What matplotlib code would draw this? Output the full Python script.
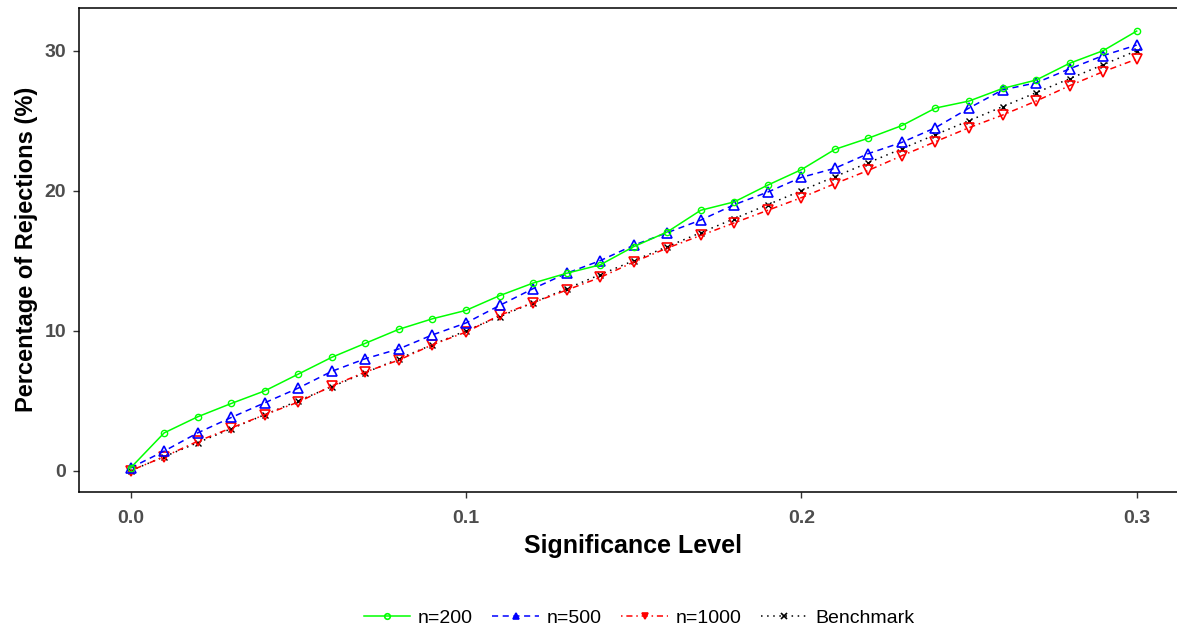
import matplotlib
matplotlib.use("Agg")
import matplotlib.pyplot as plt
from matplotlib.lines import Line2D

alpha = [0.00, 0.01, 0.02, 0.03, 0.04, 0.05, 0.06, 0.07, 0.08, 0.09, 0.10,
         0.11, 0.12, 0.13, 0.14, 0.15, 0.16, 0.17, 0.18, 0.19, 0.20,
         0.21, 0.22, 0.23, 0.24, 0.25, 0.26, 0.27, 0.28, 0.29, 0.30]
n200 = [0.2, 2.7, 3.85, 4.8, 5.7, 6.9, 8.1, 9.1, 10.1, 10.85, 11.45,
        12.5, 13.4, 14.1, 14.7, 16.0, 17.05, 18.6, 19.2, 20.4, 21.5,
        22.95, 23.75, 24.65, 25.9, 26.4, 27.3, 27.9, 29.1, 30.0, 31.4]
n500 = [0.2, 1.4, 2.7, 3.8, 4.85, 5.9, 7.1, 8.0, 8.7, 9.7, 10.55,
        11.8, 13.0, 14.1, 15.0, 16.1, 17.0, 17.9, 19.0, 19.9, 20.95,
        21.6, 22.65, 23.45, 24.5, 25.9, 27.2, 27.7, 28.7, 29.65, 30.4]
n1000 = [0.0, 1.0, 2.1, 3.05, 4.0, 4.9, 6.05, 7.05, 7.9, 9.0, 9.9,
         11.1, 12.0, 12.9, 13.8, 14.9, 15.9, 16.8, 17.7, 18.6, 19.5,
         20.5, 21.45, 22.5, 23.5, 24.5, 25.4, 26.4, 27.5, 28.5, 29.4]
benchmark = [0, 1, 2, 3, 4, 5, 6, 7, 8, 9, 10,
             11, 12, 13, 14, 15, 16, 17, 18, 19, 20,
             21, 22, 23, 24, 25, 26, 27, 28, 29, 30]
labels = ["n=200", "n=500", "n=1000", "Benchmark"]
xticks = [0.0, 0.1, 0.2, 0.3]
yticks = [0, 10, 20, 30]

plt.rcParams['font.family'] = ['Liberation Sans', 'DejaVu Sans']

fig = plt.figure(figsize=(11.77, 6.32), dpi=100)
ax = fig.add_axes([0.0668, 0.222, 0.9417, 0.7654])

styles = [
    dict(color="#00FF00", ls="-", marker="o", ms=4.5, mfc="none", mew=1.0),
    dict(color="#0000FF", ls=(0, (4, 3)), marker="^", ms=7.5, mfc="none", mew=1.2),
    dict(color="#FF0000", ls=(0, (1, 2.5, 4, 2.5)), marker="v", ms=7.5, mfc="none", mew=1.2),
    dict(color="black", ls=(0, (1, 3)), marker="x", ms=4, mfc="none", mew=1.0),
]
series = [n200, n500, n1000, benchmark]
order = [3, 2, 1, 0]
for i in order:
    st = styles[i]
    ax.plot(alpha, series[i], color=st["color"], linestyle=st["ls"], lw=1.1,
            marker=st["marker"], markersize=st["ms"], markerfacecolor=st["mfc"],
            markeredgewidth=st["mew"], markeredgecolor=st["color"], zorder=3 + (3 - i))

ax.set_xlim(-0.0155, 0.315)
ax.set_ylim(-1.5, 33.05)
ax.set_xticks(xticks)
ax.set_xticklabels(["0.0", "0.1", "0.2", "0.3"])
ax.set_yticks(yticks)
ax.tick_params(axis="both", direction="out", length=4, width=1, color="#333333",
               labelsize=14, labelcolor="#4D4D4D")
ax.tick_params(axis="x", pad=9)
ax.tick_params(axis="y", pad=5)
for lab in ax.get_xticklabels() + ax.get_yticklabels():
    lab.set_fontweight("bold")
for sp in ax.spines.values():
    sp.set_color("black")
    sp.set_linewidth(1.1)

ax.set_xlabel("Significance Level", fontsize=18, fontweight="bold", labelpad=5)
ax.set_ylabel("Percentage of Rejections (%)", fontsize=17, fontweight="bold", labelpad=5)

handles = []
leg_markers = ["o", "^", "v", "x"]
for i in range(4):
    st = styles[i]
    handles.append(Line2D([0], [0], color=st["color"], linestyle=st["ls"], lw=1.1,
                          marker=leg_markers[i], markersize=5 if i else 4,
                          markerfacecolor=st["color"] if i in (1, 2) else "none",
                          markeredgecolor=st["color"], markeredgewidth=1.2))
fig.legend(handles, labels, loc="center", bbox_to_anchor=(0.543, 0.022),
           ncol=4, frameon=False, fontsize=14, handlelength=2.4,
           columnspacing=1.0, handletextpad=0.4)

fig.savefig("out.png", dpi=100)
